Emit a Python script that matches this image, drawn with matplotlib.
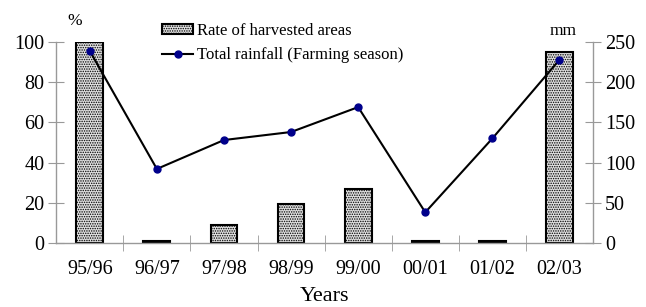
import numpy as np
import matplotlib.pyplot as plt
from matplotlib.ticker import FixedLocator

plt.rcParams['font.family'] = ['Liberation Serif', 'DejaVu Serif']
plt.rcParams['hatch.linewidth'] = 0.7

years = ['95/96', '96/97', '97/98', '98/99', '99/00', '00/01', '01/02', '02/03']
harvested = [100, 1, 9, 19.5, 27, 1, 1, 95]          # %
rainfall = [239, 92, 128, 138, 169, 38, 130, 228]   # mm

grey = '#999999'
x = np.arange(len(years))

fig = plt.figure(figsize=(6.46, 3.07), dpi=100)
ax = fig.add_axes([0.087, 0.209, 0.831, 0.654])
ax2 = ax.twinx()

bars = ax.bar(x, harvested, width=0.4, color='#e0e0e0', edgecolor='black',
              linewidth=1.5, hatch='.......', label='Rate of harvested areas', zorder=2)
line, = ax2.plot(x, rainfall, color='black', lw=1.5, marker='o', ms=5,
                 mfc='#00008b', mec='#00008b', label='Total rainfall (Farming season)')

ax.set_xlim(-0.5, len(years) - 0.5)
ax.set_ylim(0, 100)
ax2.set_ylim(0, 250)
ax.set_yticks(range(0, 101, 20))
ax2.set_yticks(range(0, 251, 50))
ax.set_xticks(x)
ax.set_xticklabels(years)
ax.xaxis.set_minor_locator(FixedLocator(x[:-1] + 0.5))

for a in (ax, ax2):
    a.spines['top'].set_visible(False)
    for s in ('left', 'right', 'bottom'):
        a.spines[s].set_color(grey)
        a.spines[s].set_linewidth(1.0)
    a.tick_params(axis='y', direction='inout', length=11, color=grey, labelsize=14.5, pad=3)
ax.spines['right'].set_visible(False)
ax2.spines['left'].set_visible(False)
ax2.spines['bottom'].set_visible(False)
ax.tick_params(axis='x', which='major', length=0, labelsize=14.5, pad=12)
ax.tick_params(axis='x', which='minor', direction='inout', length=11, color=grey)

ax.set_xlabel('Years', fontsize=16, labelpad=6)
fig.text(0.116, 0.92, '%', fontsize=12.5, ha='center')
fig.text(0.871, 0.885, 'mm', fontsize=12.5, ha='center')

fig.legend([bars, line], ['Rate of harvested areas', 'Total rainfall (Farming season)'],
           loc='upper left', bbox_to_anchor=(0.241, 0.947), frameon=False,
           fontsize=12, handlelength=1.85, handleheight=0.55,
           labelspacing=0.5, borderaxespad=0, handletextpad=0.25)

fig.savefig('out.png', dpi=100)
